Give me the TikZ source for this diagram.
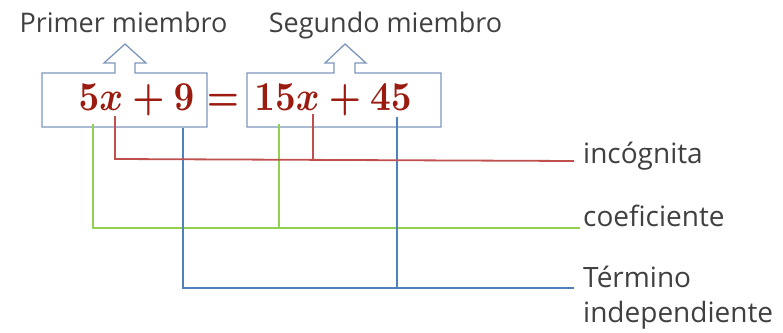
\documentclass[tikz,border=0pt]{standalone}
\usepackage{fontspec}
\setmainfont{Open Sans}
\usepackage{graphicx}
\definecolor{boxblue}{HTML}{7E96BC}
\definecolor{eqred}{HTML}{9B1B10}
\definecolor{lred}{HTML}{C0504D}
\definecolor{lgreen}{HTML}{92D050}
\definecolor{lblue}{HTML}{4F81BD}
\definecolor{txt}{HTML}{404040}
\newcommand{\eqbox}[1]{\scalebox{3.6}[4.1]{\boldmath$#1$}}
\tikzset{
  membox/.style={draw=boxblue, line width=1.3pt, line join=miter},
  eqtext/.style={inner sep=0pt, text=eqred},
  toplabel/.style={inner sep=0pt, text=txt, font=\fontsize{27}{27}\selectfont},
  sidelabel/.style={inner sep=0pt, text=txt, font=\fontsize{28}{35}\selectfont, align=left},
  redline/.style={draw=lred, line width=1.8pt},
  greenline/.style={draw=lgreen, line width=1.8pt},
  blueline/.style={draw=lblue, line width=1.8pt}
}
\begin{document}
\begin{tikzpicture}[x=1pt,y=-1pt]
\useasboundingbox (0,0) rectangle (783,332);
% boxes with block arrows
\draw[membox] (115,73) -- (115,63) -- (104,63) -- (125,44) -- (146,63) -- (135,63) -- (135,73)
  -- (207,73) -- (207,127) -- (42,127) -- (42,73) -- cycle;
\draw[membox] (334,73) -- (334,63) -- (325,63) -- (345,44) -- (366,63) -- (355,63) -- (355,73)
  -- (441,73) -- (441,127) -- (247,127) -- (247,73) -- cycle;
% texts
\node[toplabel, anchor=base] (pm) at (123.5,32) {Primer miembro};
\node[toplabel, anchor=base] (sm) at (385.5,32) {Segundo miembro};
\node[eqtext, anchor=base] (lhs) at (136.5,110) {\eqbox{5x+9}};
\node[eqtext, anchor=base] (eq) at (223,110) {\eqbox{=}};
\node[eqtext, anchor=base] (rhs) at (333,110) {\eqbox{15x+45}};
\node[sidelabel, anchor=base west] (inc) at (583,163) {incógnita};
\node[sidelabel, anchor=base west] (coef) at (583,226) {coeficiente};
\node[sidelabel, anchor=base west] (ter) at (583,287) {Término};
\node[sidelabel, anchor=base west] (ind) at (583,322) {independiente};
% connector coordinates
\coordinate (g1) at (93,124);
\coordinate (g2) at (279,124);
\coordinate (r1) at (115,116);
\coordinate (r2) at (313,114);
\coordinate (b1) at (183,128);
\coordinate (b2) at (397,117);
\coordinate (rend) at (574,161);
\coordinate (gend) at (580,228);
\coordinate (bend) at (574,288);
% connectors
\draw[greenline] (g1) |- (gend);
\draw[greenline] (g2) -- (g2 |- gend);
\draw[blueline] (b1) |- (bend);
\draw[blueline] (b2) -- (b2 |- bend);
\draw[redline] (r1) -- (115,159) -- (rend);
\draw[redline] (r2) -- (313,160);
\end{tikzpicture}
\end{document}
